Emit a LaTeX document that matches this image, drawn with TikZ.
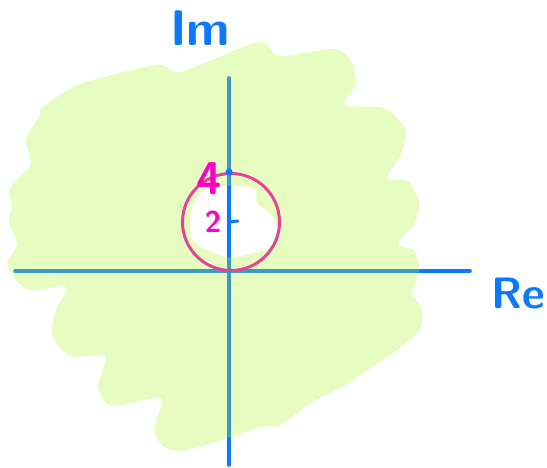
\documentclass[tikz,border=0pt]{standalone}
\usepackage{tikz}
\usetikzlibrary{positioning}

\definecolor{axisblue}{RGB}{10,120,255}
\definecolor{hlgreen}{RGB}{171,245,45}
\definecolor{ringpink}{RGB}{228,68,150}
\definecolor{labmagenta}{RGB}{255,0,200}

\begin{document}
\begin{tikzpicture}[
    x=1pt, y=-1pt,
    axis/.style={draw=axisblue, line width=3.6pt, line cap=round},
    shade/.style={fill=hlgreen, fill opacity=0.3, even odd rule},
    ring/.style={circle, draw=ringpink, line width=3pt, minimum size=97pt, inner sep=0pt},
    axlab/.style={text=axisblue, font=\sffamily\bfseries\fontsize{#1}{#1}\selectfont},
    numlab/.style={text=labmagenta, font=\sffamily\bfseries\fontsize{#1}{#1}\selectfont},
]
\useasboundingbox (0,0) rectangle (547,468);

% Axes
\coordinate (xl) at (15,271);
\coordinate (xr) at (470,271);
\coordinate (yt) at (229,78);
\coordinate (yb) at (229,465);
\draw[axis] (xl) -- (xr);
\draw[axis] (yt) -- (yb);

% Shaded region (outside the disk)
\fill[shade] plot[smooth cycle, tension=0.45] coordinates {
    (42,108) (80,84) (157,65) (181,72) (258,42) (279,56) (335,49) (352,63)
    (356,84) (344,105) (384,108) (405,129) (401,154) (387,178) (408,181)
    (419,202) (415,223) (398,244) (415,251) (419,272) (412,293) (422,310)
    (419,331) (394,352) (342,387) (314,401) (279,426) (262,427) (188,450)
    (164,447) (154,429) (161,398) (112,406) (98,387) (105,356) (70,356)
    (52,335) (56,310) (66,286) (28,290) (7,265) (17,244) (9,223) (12,206)
    (10,188) (31,164) (26,140) (40,115)}
  plot[smooth cycle, tension=0.6] coordinates {
    (197,197) (213,187) (253,188) (257,203) (270,213) (277,227) (270,247)
    (253,253) (227,257) (207,250) (193,240) (190,217)};

% Disk and ticks
\node[ring] (disk) at (231,222) {};
\coordinate (t4) at (229,172);
\coordinate (t2) at (229,222);
\coordinate (t2r) at (238,221);
\fill[axisblue] (t4) circle (3.5pt);
\draw[axis, line width=3pt] (t2) -- (t2r);

% Labels
\node[axlab=50] (im) at (200,28) {Im};
\node[axlab=44, anchor=west] (re) at (488,293) {Re};
\node[numlab=46] (four) at (209,179) {4};
\node[numlab=30] (two) at (213,222) {2};

\end{tikzpicture}
\end{document}
